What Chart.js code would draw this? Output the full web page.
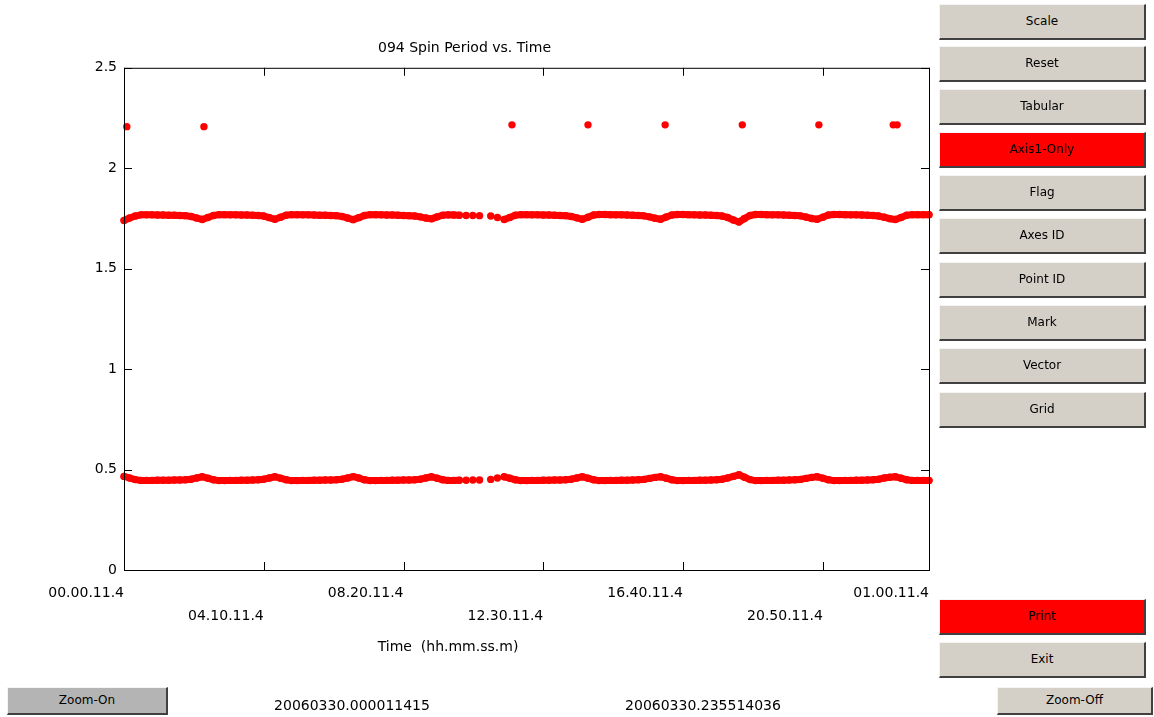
<!DOCTYPE html>
<html>
<head>
<meta charset="utf-8">
<title>094 Spin Period vs. Time</title>
<script src="https://cdn.jsdelivr.net/npm/chart.js@4.4.1/dist/chart.umd.min.js"></script>
<style>
  html, body { margin: 0; padding: 0; background: #fff; }
  body { width: 1154px; height: 717px; position: relative; overflow: hidden; font-family: "DejaVu Sans", sans-serif; }
  #chart { position: absolute; left: 0; top: 0; }
  .btn {
    position: absolute; box-sizing: border-box; background: #d4d0c8;
    border-top: 1px solid #f4f4f4; border-left: 1px solid #f4f4f4;
    border-right: 2px solid #404040; border-bottom: 2px solid #404040;
    font-size: 12px; color: #000; text-align: center;
  }
  .btn.red { background: #ff0000; }
  .btn.dark { background: #b4b4b4; }
  .txt { position: absolute; font-size: 14px; color: #000; white-space: pre; text-align: center; }
</style>
</head>
<body>
<canvas id="chart" width="1154" height="717"></canvas>

<div class="btn" style="left:939px;top:4px;width:207px;height:36px;line-height:33px">Scale</div>
<div class="btn" style="left:939px;top:46px;width:207px;height:36px;line-height:33px">Reset</div>
<div class="btn" style="left:939px;top:89px;width:207px;height:36px;line-height:33px">Tabular</div>
<div class="btn red" style="left:939px;top:132px;width:207px;height:36px;line-height:33px">Axis1-Only</div>
<div class="btn" style="left:939px;top:175px;width:207px;height:36px;line-height:33px">Flag</div>
<div class="btn" style="left:939px;top:218px;width:207px;height:36px;line-height:33px">Axes ID</div>
<div class="btn" style="left:939px;top:262px;width:207px;height:36px;line-height:33px">Point ID</div>
<div class="btn" style="left:939px;top:305px;width:207px;height:36px;line-height:33px">Mark</div>
<div class="btn" style="left:939px;top:348px;width:207px;height:36px;line-height:33px">Vector</div>
<div class="btn" style="left:939px;top:392px;width:207px;height:36px;line-height:33px">Grid</div>
<div class="btn red" style="left:939px;top:599px;width:207px;height:36px;line-height:33px">Print</div>
<div class="btn" style="left:939px;top:642px;width:207px;height:36px;line-height:33px">Exit</div>
<div class="btn dark" style="left:7px;top:687px;width:161px;height:28px;line-height:25px">Zoom-On</div>
<div class="btn" style="left:997px;top:687px;width:156px;height:28px;line-height:25px">Zoom-Off</div>

<div class="txt" style="left:298px;top:638px;width:300px">Time  (hh.mm.ss.m)</div>
<div class="txt" style="left:202px;top:697px;width:300px">20060330.000011415</div>
<div class="txt" style="left:553px;top:697px;width:300px">20060330.235514036</div>

<script>
// time in minutes since 00.00.11.4
const times = [
  0, 10, 20, 30, 40, 50, 60, 70, 80, 90,
  100, 110, 120, 130, 140, 150, 160, 170, 180, 190,
  200, 210, 220, 230, 240, 250, 260, 270, 280, 290,
  300, 310, 320, 330, 340, 350, 360, 370, 380, 390,
  400, 410, 420, 430, 440, 450, 460, 470, 480, 490,
  500, 510, 520, 530, 540, 550, 560, 570, 580, 590,
  600, 612, 624, 636, 656, 668,
  680, 690, 700, 710, 720, 730, 740, 750, 760, 770,
  780, 790, 800, 810, 820, 830, 840, 850, 860, 870,
  880, 890, 900, 910, 920, 930, 940, 950, 960, 970,
  980, 990, 1000, 1010, 1020, 1030, 1040, 1050, 1060, 1070,
  1080, 1090, 1100, 1110, 1120, 1130, 1140, 1150, 1160, 1170,
  1180, 1190, 1200, 1210, 1220, 1230, 1240, 1250, 1260, 1270,
  1280, 1290, 1300, 1310, 1320, 1330, 1340, 1350, 1360, 1370,
  1380, 1390, 1400, 1410, 1420, 1430, 1440
];

const upperBand = [
  1.740, 1.752, 1.762, 1.768, 1.768, 1.768, 1.767, 1.767, 1.766, 1.766,
  1.765, 1.764, 1.760, 1.752, 1.745, 1.755, 1.765, 1.769, 1.769, 1.768,
  1.768, 1.767, 1.767, 1.766, 1.765, 1.762, 1.754, 1.746, 1.756, 1.766,
  1.769, 1.769, 1.768, 1.768, 1.767, 1.766, 1.766, 1.765, 1.764, 1.760,
  1.752, 1.744, 1.754, 1.765, 1.769, 1.769, 1.768, 1.767, 1.767, 1.766,
  1.765, 1.764, 1.762, 1.758, 1.752, 1.748, 1.758, 1.766, 1.768, 1.767,
  1.766, 1.765, 1.765, 1.764, 1.762, 1.755,
  1.745, 1.755, 1.766, 1.769, 1.769, 1.768, 1.768, 1.767, 1.767, 1.766,
  1.765, 1.764, 1.760, 1.753, 1.746, 1.756, 1.767, 1.770, 1.770, 1.769,
  1.768, 1.768, 1.767, 1.766, 1.765, 1.763, 1.758, 1.751, 1.746, 1.757,
  1.767, 1.770, 1.770, 1.769, 1.768, 1.767, 1.767, 1.766, 1.765, 1.762,
  1.755, 1.742, 1.732, 1.750, 1.765, 1.770, 1.770, 1.769, 1.768, 1.768,
  1.767, 1.766, 1.765, 1.763, 1.757, 1.750, 1.746, 1.756, 1.767, 1.770,
  1.770, 1.769, 1.768, 1.768, 1.767, 1.766, 1.765, 1.762, 1.756, 1.749,
  1.745, 1.755, 1.766, 1.769, 1.769, 1.769, 1.769
];

const lowerBand = [
  0.466, 0.458, 0.450, 0.446, 0.446, 0.446, 0.447, 0.447, 0.447, 0.448,
  0.448, 0.449, 0.452, 0.458, 0.464, 0.457, 0.449, 0.445, 0.445, 0.446,
  0.446, 0.447, 0.447, 0.448, 0.449, 0.452, 0.458, 0.464, 0.457, 0.449,
  0.445, 0.445, 0.446, 0.446, 0.447, 0.447, 0.448, 0.448, 0.449, 0.452,
  0.458, 0.465, 0.458, 0.449, 0.445, 0.445, 0.446, 0.446, 0.447, 0.447,
  0.448, 0.448, 0.449, 0.452, 0.458, 0.464, 0.457, 0.449, 0.446, 0.446,
  0.447, 0.447, 0.448, 0.448, 0.451, 0.458,
  0.464, 0.457, 0.449, 0.445, 0.445, 0.446, 0.446, 0.447, 0.447, 0.448,
  0.448, 0.449, 0.452, 0.458, 0.464, 0.457, 0.449, 0.445, 0.445, 0.446,
  0.446, 0.447, 0.447, 0.448, 0.449, 0.451, 0.456, 0.461, 0.464, 0.457,
  0.449, 0.445, 0.445, 0.446, 0.446, 0.447, 0.447, 0.448, 0.449, 0.452,
  0.458, 0.466, 0.474, 0.462, 0.450, 0.445, 0.445, 0.446, 0.446, 0.447,
  0.447, 0.448, 0.449, 0.451, 0.456, 0.461, 0.464, 0.457, 0.449, 0.445,
  0.445, 0.446, 0.446, 0.447, 0.447, 0.448, 0.449, 0.452, 0.458, 0.462,
  0.464, 0.457, 0.449, 0.446, 0.446, 0.446, 0.446
];

// stretch of time where the samples are sparse (shown as single dots)
const sparseFrom = 605;
const sparseTo = 675;

const spikeTimes = [5, 143, 694, 830, 968, 1106, 1243, 1376, 1383];
const spikeValues = [2.207, 2.207, 2.216, 2.216, 2.216, 2.216, 2.216, 2.216, 2.216];

const xTickValues = [0, 250, 500, 750, 1000, 1250, 1440];
const xTickLabels = ['00.00.11.4', '04.10.11.4', '08.20.11.4', '12.30.11.4', '16.40.11.4', '20.50.11.4', '01.00.11.4'];
const yTickValues = [0, 0.5, 1, 1.5, 2, 2.5];
const yTickLabels = ['0', '0.5', '1', '1.5', '2', '2.5'];

function isSparse(t) {
  return t > sparseFrom && t < sparseTo;
}
// dense part: a thick line, broken over the sparse stretch
function densePoints(ys) {
  return times.map((t, i) => ({ x: t, y: isSparse(t) ? null : ys[i] }));
}
function sparsePoints(ys) {
  return times.map((t, i) => ({ x: t, y: ys[i] })).filter(p => isSparse(p.x));
}
function toPoints(xs, ys) {
  return xs.map((x, i) => ({ x: x, y: ys[i] }));
}

// box around the plot with inward tick marks, like the original
const frameTicks = {
  id: 'frameTicks',
  afterDatasetsDraw(chart) {
    const { ctx, chartArea: a, scales } = chart;
    const len = 8;
    ctx.save();
    ctx.strokeStyle = '#000';
    ctx.lineWidth = 1;
    ctx.strokeRect(a.left + 0.5, a.top + 0.5, a.right - a.left, a.bottom - a.top);
    ctx.beginPath();
    yTickValues.forEach(v => {
      const py = Math.round(scales.y.getPixelForValue(v)) + 0.5;
      ctx.moveTo(a.left, py); ctx.lineTo(a.left + len, py);
      ctx.moveTo(a.right, py); ctx.lineTo(a.right - len, py);
    });
    xTickValues.forEach(v => {
      const px = Math.round(scales.x.getPixelForValue(v)) + 0.5;
      ctx.moveTo(px, a.bottom); ctx.lineTo(px, a.bottom - len);
      ctx.moveTo(px, a.top); ctx.lineTo(px, a.top + len);
    });
    ctx.stroke();
    ctx.restore();
  }
};

const red = '#ff0000';
const dotStyle = {
  backgroundColor: red,
  borderColor: red,
  borderWidth: 0,
  pointRadius: 3.7,
  pointHoverRadius: 3.7,
  showLine: false,
  clip: 6
};
const bandStyle = {
  backgroundColor: red,
  borderColor: red,
  borderWidth: 7,
  borderCapStyle: 'round',
  borderJoinStyle: 'round',
  pointRadius: 3.7,
  pointBorderWidth: 0,
  pointHoverRadius: 3.7,
  showLine: true,
  spanGaps: false,
  clip: 6
};

new Chart(document.getElementById('chart'), {
  type: 'scatter',
  data: {
    datasets: [
      Object.assign({ label: 'upper', data: densePoints(upperBand) }, bandStyle),
      Object.assign({ label: 'lower', data: densePoints(lowerBand) }, bandStyle),
      Object.assign({ label: 'upper sparse', data: sparsePoints(upperBand) }, dotStyle),
      Object.assign({ label: 'lower sparse', data: sparsePoints(lowerBand) }, dotStyle),
      Object.assign({ label: 'spikes', data: toPoints(spikeTimes, spikeValues) }, dotStyle)
    ]
  },
  options: {
    responsive: false,
    animation: false,
    layout: { padding: { left: 0, right: 225, top: 0, bottom: 0 } },
    plugins: {
      legend: { display: false },
      tooltip: { enabled: false },
      title: {
        display: true,
        text: '094 Spin Period vs. Time',
        color: '#000',
        font: { family: 'DejaVu Sans', size: 14, weight: 'normal' },
        padding: { top: 40, bottom: 11 }
      }
    },
    scales: {
      x: {
        type: 'linear',
        min: 0,
        max: 1440,
        grid: { display: false, drawTicks: false },
        border: { display: false },
        afterBuildTicks: s => { s.ticks = xTickValues.map(v => ({ value: v })); },
        afterFit: s => { s.height = 147; },
        ticks: {
          autoSkip: false,
          maxRotation: 0,
          align: 'end',
          padding: 12,
          color: '#000',
          font: { family: 'DejaVu Sans', size: 14, lineHeight: 1.65 },
          callback: (v, i) => (i % 2 ? ['', xTickLabels[i]] : xTickLabels[i])
        }
      },
      y: {
        min: 0,
        max: 2.5,
        grid: { display: false, drawTicks: false },
        border: { display: false },
        afterBuildTicks: s => { s.ticks = yTickValues.map(v => ({ value: v })); },
        afterFit: s => { s.width = 124; },
        ticks: {
          padding: 7,
          color: '#000',
          font: { family: 'DejaVu Sans', size: 14 },
          callback: (v, i) => yTickLabels[i]
        }
      }
    }
  },
  plugins: [frameTicks]
});
</script>
</body>
</html>
